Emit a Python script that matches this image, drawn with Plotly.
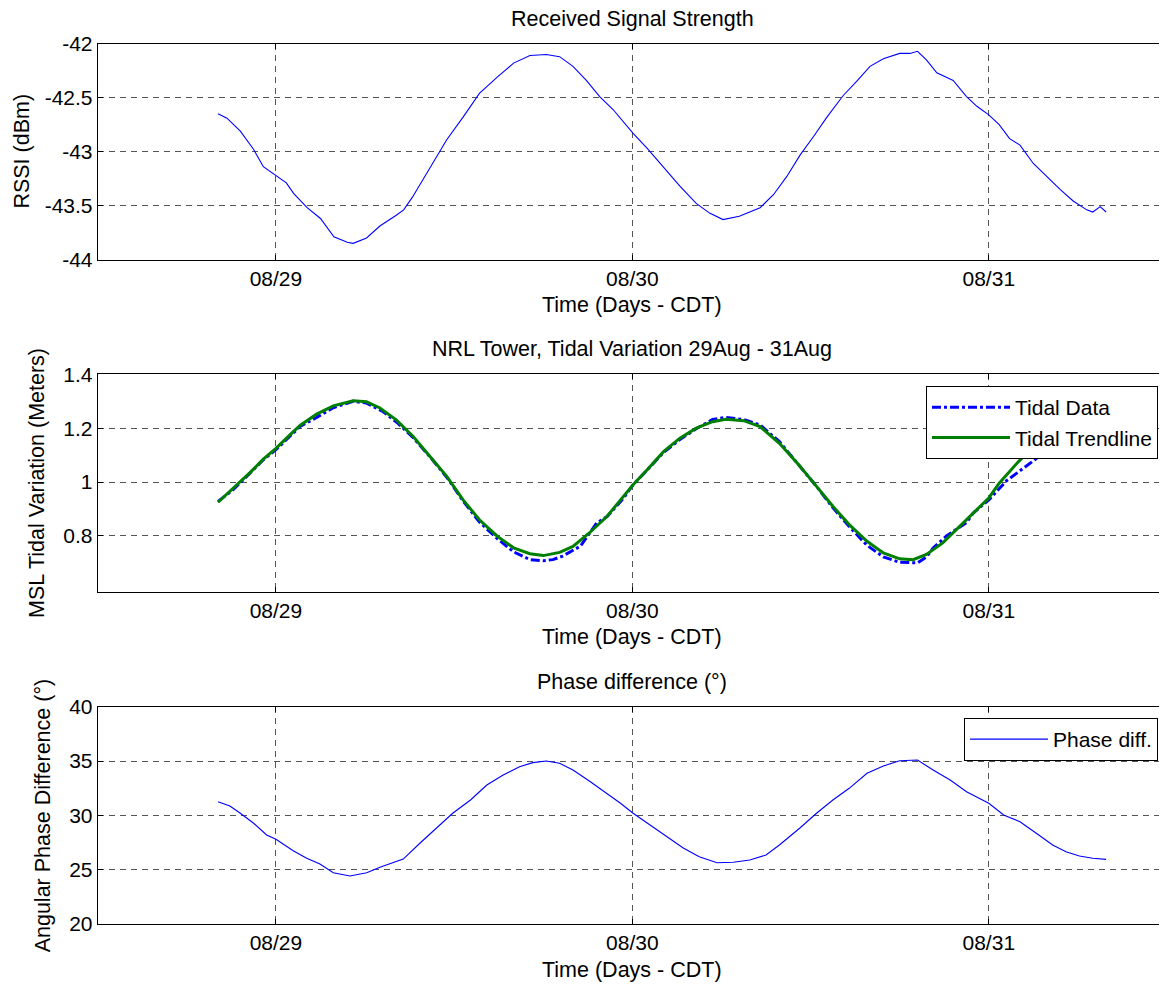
import pandas as pd
import plotly.graph_objects as go

BASE = pd.Timestamp("2011-08-29 00:00")

# ---- Received signal strength (RSSI, dBm); hours relative to 08/29 00:00 CDT
rssi_hours = [-3.9, -3.3, -2.4, -1.5, -0.85, 0.0, 0.7, 1.2, 2.1, 3.0, 3.9, 4.8, 5.2, 6.1, 7.0,
              8.1, 8.6, 9.2, 10.4, 11.5, 12.6, 13.7, 14.9, 16.0, 17.1, 18.2, 19.1, 20.0, 20.9,
              21.8, 22.7, 24.05, 25.0, 26.1, 27.2, 28.3, 29.2, 30.1, 31.2, 32.6, 33.5, 34.4,
              35.3, 36.2, 37.1, 38.2, 39.1, 40.0, 40.9, 42.0, 42.7, 43.2, 43.8, 44.5, 45.6,
              46.5, 47.2, 48.0, 48.7, 49.4, 50.1, 51.0, 51.9, 52.8, 53.7, 54.6, 55.0, 55.5, 55.9]
rssi_vals = [-42.65, -42.69, -42.81, -42.98, -43.14, -43.22, -43.29, -43.39, -43.52, -43.62,
             -43.79, -43.84, -43.85, -43.80, -43.69, -43.59, -43.54, -43.42, -43.14, -42.89,
             -42.68, -42.46, -42.31, -42.18, -42.11, -42.10, -42.12, -42.21, -42.34, -42.49,
             -42.61, -42.83, -42.97, -43.15, -43.32, -43.48, -43.57, -43.63, -43.60, -43.52,
             -43.40, -43.23, -43.03, -42.86, -42.68, -42.48, -42.35, -42.21, -42.14, -42.09,
             -42.09, -42.07, -42.15, -42.27, -42.34, -42.49, -42.58, -42.66, -42.75, -42.88,
             -42.94, -43.11, -43.23, -43.35, -43.46, -43.54, -43.56, -43.51, -43.56]

# ---- Tidal data (m)
tide_hours = [-3.9, -2.9, -1.75, -0.85, 0.0, 0.94, 1.62, 2.74, 3.86, 5.2, 6.1, 7.2, 8.2, 9.24,
              10.4, 11.5, 12.6, 13.7, 14.9, 16.0, 17.1, 18.0, 18.65, 19.3, 20.5, 21.6, 22.3,
              23.4, 24.05, 25.0, 26.1, 27.2, 28.3, 29.4, 30.3, 31.5, 32.6, 33.9, 35.2, 36.4,
              37.5, 38.6, 39.8, 40.9, 42.0, 43.2, 43.8, 44.25, 45.15, 45.8, 46.5, 46.95, 48.0,
              49.2, 50.5, 51.25]
tide_vals = [0.928, 0.971, 1.033, 1.083, 1.120, 1.169, 1.206, 1.240, 1.276, 1.300, 1.293, 1.262,
             1.219, 1.165, 1.092, 1.018, 0.930, 0.852, 0.790, 0.741, 0.712, 0.708, 0.712, 0.725,
             0.762, 0.848, 0.872, 0.940, 0.990, 1.045, 1.110, 1.158, 1.198, 1.232, 1.240, 1.232,
             1.212, 1.150, 1.064, 0.984, 0.905, 0.835, 0.765, 0.722, 0.702, 0.700, 0.722, 0.755,
             0.800, 0.823, 0.850, 0.885, 0.934, 1.005, 1.058, 1.089]

# ---- Tidal trendline (m)
trend_hours = [-3.9, -2.9, -1.75, -0.85, 0.0, 0.94, 1.62, 2.74, 3.86, 5.2, 6.1, 7.0, 8.1, 9.24,
               10.4, 11.5, 12.6, 13.7, 14.9, 16.0, 17.1, 18.0, 19.1, 20.0, 21.1, 22.3, 23.4,
               24.05, 25.0, 26.1, 27.2, 28.3, 29.4, 30.3, 31.5, 32.6, 33.9, 35.2, 36.4, 37.5,
               38.6, 39.8, 40.9, 42.0, 42.9, 43.8, 44.9, 46.05, 47.2, 48.0, 48.7, 49.9, 50.8, 51.8]
trend_vals = [0.925, 0.975, 1.035, 1.085, 1.125, 1.175, 1.210, 1.252, 1.283, 1.302, 1.298, 1.275,
              1.231, 1.169, 1.095, 1.021, 0.934, 0.860, 0.799, 0.756, 0.734, 0.727, 0.739, 0.761,
              0.811, 0.873, 0.947, 0.990, 1.046, 1.113, 1.163, 1.200, 1.224, 1.233, 1.228, 1.206,
              1.144, 1.064, 0.984, 0.910, 0.842, 0.780, 0.737, 0.715, 0.712, 0.731, 0.774, 0.836,
              0.897, 0.941, 0.996, 1.070, 1.120, 1.165]

# ---- Angular phase difference (deg)
phase_hours = [-3.9, -3.1, -2.4, -1.5, -0.63, 0.0, 1.16, 2.07, 2.96, 3.86, 4.98, 6.11, 7.0, 8.23,
               8.57, 9.69, 10.8, 11.9, 13.1, 14.2, 15.3, 16.4, 17.3, 18.2, 19.1, 20.0, 21.1,
               22.3, 23.2, 24.05, 25.2, 26.3, 27.4, 28.5, 29.7, 30.8, 31.9, 33.0, 33.9, 35.3,
               36.4, 37.5, 38.6, 39.8, 40.9, 42.0, 43.2, 44.25, 45.4, 46.5, 48.0, 49.0, 50.1,
               51.2, 52.3, 53.2, 54.1, 55.0, 55.9]
phase_vals = [31.26, 30.86, 30.19, 29.27, 28.19, 27.80, 26.75, 26.05, 25.52, 24.72, 24.42, 24.72,
              25.22, 25.83, 25.98, 27.43, 28.81, 30.19, 31.41, 32.79, 33.71, 34.48, 34.85, 35.00,
              34.79, 34.17, 33.16, 32.03, 31.11, 30.19, 29.11, 28.04, 27.02, 26.19, 25.64, 25.68,
              25.89, 26.35, 27.27, 28.86, 30.19, 31.41, 32.49, 33.87, 34.54, 35.03, 35.09, 34.17,
              33.25, 32.18, 31.11, 30.03, 29.41, 28.35, 27.27, 26.65, 26.26, 26.05, 25.95]

day_ticks = ["2011-08-29", "2011-08-30", "2011-08-31"]
day_labels = ["08/29", "08/30", "08/31"]
rssi_ticks = [-44, -43.5, -43, -42.5, -42]
rssi_labels = ["-44", "-43.5", "-43", "-42.5", "-42"]
tide_ticks = [0.8, 1.0, 1.2, 1.4]
tide_labels = ["0.8", "1", "1.2", "1.4"]
phase_ticks = [20, 25, 30, 35, 40]
phase_labels = ["20", "25", "30", "35", "40"]


def to_time(hours):
    return BASE + pd.to_timedelta(pd.Series(hours), unit="h")


# page body has an 8px margin: size the figure so that it ends at the window edge
OFF = 8
W, H = 1167 - OFF, 987 - OFF
FONT = "Liberation Sans, Arial, Helvetica, sans-serif"
FS_TICK = 21
FS_LAB = 21.5


def px_x(px):
    return (px - OFF) / W


def px_y(py):
    return 1 - (py - OFF) / H


fig = go.Figure()
fig.add_trace(go.Scatter(x=to_time(rssi_hours), y=rssi_vals, mode="lines",
                         line=dict(color="#0000ff", width=1.1), showlegend=False,
                         xaxis="x", yaxis="y"))
fig.add_trace(go.Scatter(x=to_time(tide_hours), y=tide_vals, mode="lines", name="Tidal Data",
                         line=dict(color="#0000ff", width=3, dash="dashdot"),
                         xaxis="x2", yaxis="y2", legend="legend"))
fig.add_trace(go.Scatter(x=to_time(trend_hours), y=trend_vals, mode="lines", name="Tidal Trendline",
                         line=dict(color="#008000", width=3),
                         xaxis="x2", yaxis="y2", legend="legend"))
fig.add_trace(go.Scatter(x=to_time(phase_hours), y=phase_vals, mode="lines", name="Phase diff.",
                         line=dict(color="#0000ff", width=1.1),
                         xaxis="x3", yaxis="y3", legend="legend2"))

x_dom = [px_x(97.75), 1.0]
xrange_ = ["2011-08-28 12:00", "2011-08-31 12:00"]
panels = [(43.7, 259.5), (374.3, 591.7), (706.7, 924.0)]

grid = dict(showgrid=True, gridcolor="#555555", griddash="6px,5px", gridwidth=1)
axis_common = dict(showline=True, linecolor="black", linewidth=1, mirror="allticks",
                   ticks="inside", ticklen=5, tickcolor="black", zeroline=False,
                   tickfont=dict(family=FONT, size=FS_TICK, color="black"), **grid)

layout = dict(width=W, height=H, margin=dict(l=0, r=0, t=0, b=0, autoexpand=False),
              paper_bgcolor="white", plot_bgcolor="white",
              font=dict(family=FONT, size=FS_TICK, color="black"))

yranges = [[-44, -42], [0.593, 1.4], [20, 40]]
yticks = [(rssi_ticks, rssi_labels), (tide_ticks, tide_labels), (phase_ticks, phase_labels)]
for i, (top, bot) in enumerate(panels):
    sfx = "" if i == 0 else str(i + 1)
    layout["xaxis" + sfx] = dict(domain=x_dom, range=xrange_, type="date",
                                 tickmode="array", tickvals=day_ticks, ticktext=day_labels,
                                 anchor="y" + sfx, **axis_common)
    layout["yaxis" + sfx] = dict(domain=[px_y(bot), px_y(top)], range=yranges[i],
                                 tickmode="array", tickvals=yticks[i][0], ticktext=yticks[i][1],
                                 anchor="x" + sfx, **axis_common)

leg_common = dict(xanchor="right", yanchor="top", bordercolor="black", borderwidth=1,
                  bgcolor="white", itemwidth=78, tracegroupgap=0,
                  font=dict(family=FONT, size=FS_TICK, color="black"))
layout["legend"] = dict(x=px_x(1158), y=px_y(386), **leg_common)
layout["legend2"] = dict(x=px_x(1158), y=px_y(718), **leg_common)

ann = []
titles = ["Received Signal Strength", "NRL Tower, Tidal Variation 29Aug - 31Aug", "Phase difference (°)"]
title_y = [19, 349, 682]
xlab_y = [305, 637, 970]
ylabels = ["RSSI (dBm)", "MSL Tidal Variation (Meters)", "Angular Phase Difference (°)"]
ylab_x = [21, 37, 43]
for i, (top, bot) in enumerate(panels):
    ann.append(dict(text=titles[i], x=px_x(632), y=px_y(title_y[i]), xref="paper", yref="paper",
                    showarrow=False, xanchor="center", yanchor="middle",
                    font=dict(family=FONT, size=FS_LAB, color="black")))
    ann.append(dict(text="Time (Days - CDT)", x=px_x(632), y=px_y(xlab_y[i]), xref="paper", yref="paper",
                    showarrow=False, xanchor="center", yanchor="middle",
                    font=dict(family=FONT, size=FS_LAB, color="black")))
    if i == 0:
        ann.append(dict(text=ylabels[i], x=0.0, y=px_y((top + bot) / 2), xref="paper", yref="paper",
                        showarrow=False, xanchor="left", yanchor="middle", textangle=-90,
                        font=dict(family=FONT, size=FS_LAB, color="black")))
    else:
        ann.append(dict(text=ylabels[i], x=px_x(ylab_x[i]), y=px_y((top + bot) / 2), xref="paper",
                        yref="paper", showarrow=False, xanchor="center", yanchor="middle",
                        textangle=-90, font=dict(family=FONT, size=FS_LAB, color="black")))
layout["annotations"] = ann

fig.update_layout(**layout)
fig.write_html("out.html")
